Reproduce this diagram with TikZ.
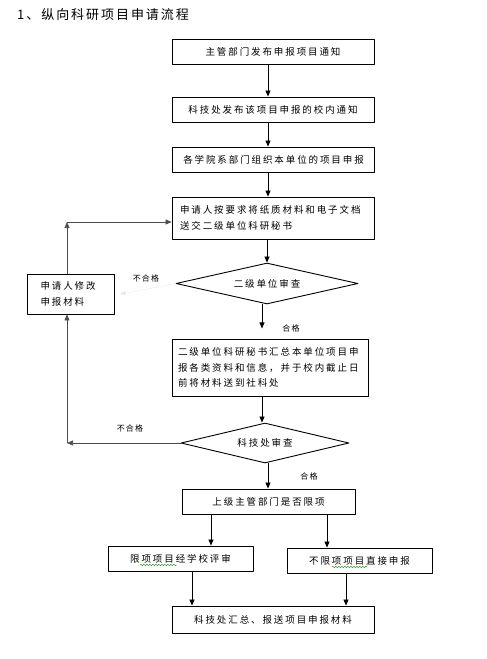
\documentclass[tikz,border=0pt]{standalone}
\usepackage{fontspec}
\newfontfamily\cjk[LetterSpace=20]{Noto Sans CJK SC}
\newfontfamily\cjktitle[LetterSpace=15]{Noto Sans CJK SC}
\newfontfamily\cjklbl[LetterSpace=15]{Noto Sans CJK SC}
\usetikzlibrary{arrows.meta,shapes.geometric,decorations.pathmorphing}
\tikzset{
	box/.style={draw, line width=0.9pt, inner sep=0pt, font=\cjk\fontsize{9.5}{15.5}\selectfont},
	choice/.style={draw, diamond, line width=0.9pt, inner sep=0pt, aspect=4.4, font=\cjk\fontsize{9.5}{15}\selectfont},
	arr/.style={-{Triangle[length=6pt,width=5pt]}, line width=0.8pt},
	back/.style={-{Triangle[length=6pt,width=5pt]}, line width=0.6pt, black!70},
	lbl/.style={font=\cjklbl\fontsize{8}{10}\selectfont, inner sep=0pt},
	wavy/.style={draw=green!55!black, line width=0.4pt, decorate, decoration={snake, amplitude=0.7pt, segment length=3pt}}
}
\begin{document}
\begin{tikzpicture}[x=1pt, y=-1pt, line join=round, >=stealth]
	\useasboundingbox (0,0) rectangle (487,659);
	\node[anchor=west, inner sep=0pt, font=\cjktitle\fontsize{13}{15}\selectfont] (title) at (17,15) {1、纵向科研项目申请流程};
	% main column
	\node[box, minimum width=202pt, minimum height=25pt] (notice) at (273,51.5) {主管部门发布申报项目通知};
	\node[box, minimum width=202pt, minimum height=25pt] (inner) at (273,109.5) {科技处发布该项目申报的校内通知};
	\node[box, minimum width=202pt, minimum height=25pt] (organize) at (273.5,159.5) {各学院系部门组织本单位的项目申报};
	\node[box, minimum width=202pt, minimum height=42pt, text width=186pt, align=left] (submit) at (273,218) {申请人按要求将纸质材料和电子文档\\送交二级单位科研秘书};
	\node[choice, minimum width=182pt, minimum height=41pt] (check1) at (267,283.5) {二级单位审查};
	\node[box, minimum width=196pt, minimum height=57pt, text width=184pt, align=left] (collect) at (270,367.5) {二级单位科研秘书汇总本单位项目申\\报各类资料和信息，并于校内截止日\\前将材料送到社科处};
	\node[choice, minimum width=168pt, minimum height=40pt] (check2) at (265,443) {科技处审查};
	\node[box, minimum width=173pt, minimum height=25pt] (limit) at (268.5,501.5) {上级主管部门是否限项};
	\node[box, minimum width=145pt, minimum height=25pt] (review) at (180.5,558.5) {限项项目经学校评审};
	\node[box, minimum width=145pt, minimum height=25pt] (direct) at (359.5,560.5) {不限项项目直接申报};
	\node[box, minimum width=202pt, minimum height=27pt] (final) at (273,619.5) {科技处汇总、报送项目申报材料};
	% side box
	\node[box, minimum width=87pt, minimum height=40pt, text width=60pt, align=left] (revise) at (70.5,294) {申请人修改\\申报材料};
	\coordinate (up) at (67,222);
	\coordinate (down) at (67,443);

	\draw[arr] ([xshift=-5pt]notice.south) -- ([xshift=-5pt]inner.north);
	\draw[arr] ([xshift=-5pt]inner.south) -- ([xshift=-5.5pt]organize.north);
	\draw[arr] ([xshift=-5.5pt]organize.south) -- ([xshift=-5pt]submit.north);
	\draw[arr] (check1.north |- submit.south) -- (check1.north);
	\draw[arr] ([xshift=-5pt]check1.south) -- ++(0,24);
	\draw[arr] (check2.north |- collect.south) ++(-3,0) -- ([xshift=-3pt]check2.north);
	\draw[arr] ([xshift=3pt]check2.south) -- ([xshift=3pt]check2.south |- limit.north);
	\draw[arr] ([xshift=-57.5pt]limit.south) -- ([xshift=-57.5pt]limit.south |- review.north);
	\draw[arr] ([xshift=58.5pt]limit.south) -- ([xshift=58.5pt]limit.south |- direct.north);
	\draw[arr] ([xshift=11.5pt]review.south) -- ([xshift=11.5pt]review.south |- final.north);
	\draw[arr] ([xshift=-13.5pt]direct.south) -- ([xshift=-13.5pt]direct.south |- final.north);
	% back loops
	\draw[-{Triangle[length=5pt,width=4pt]}, line width=0.3pt, black!10] (check1.west) -- ([xshift=6pt]revise.east);
	\draw[back] (check2.west) -- (down);
	\draw[back] (down) -- ([xshift=-3.5pt]revise.south);
	\draw[back] ([xshift=-3.5pt]revise.north) -- (up);
	\draw[back] (up) -- (up -| submit.west);
	% labels
	\path
	(146,278) node[lbl] (fail1) {不合格}
	(130,428) node[lbl] (fail2) {不合格}
	(291,328) node[lbl] (pass1) {合格}
	(309,476) node[lbl] (pass2) {合格}
	;
	\draw[wavy] (140,565) -- (177,565);
	\draw[wavy] (332,567) -- (367,567);
\end{tikzpicture}
\end{document}
